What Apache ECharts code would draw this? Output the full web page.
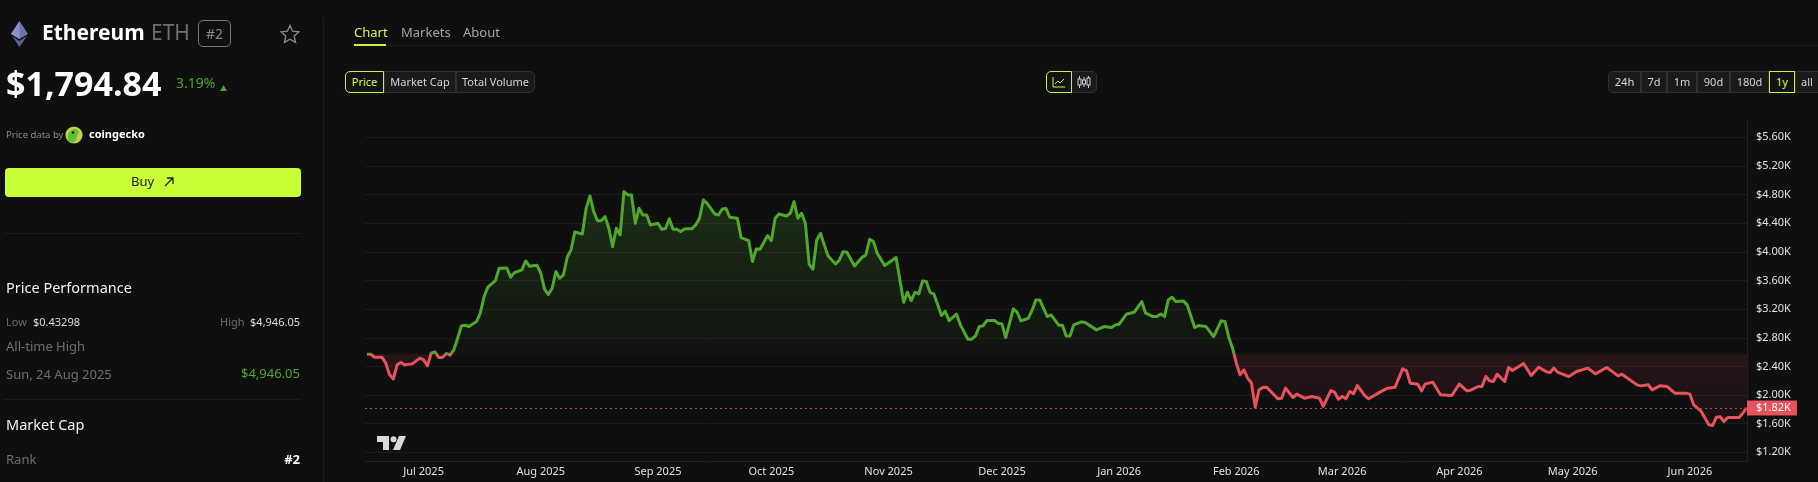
<!DOCTYPE html>
<html>
<head>
<meta charset="utf-8">
<title>Ethereum ETH</title>
<script src="https://cdn.jsdelivr.net/npm/echarts@6/dist/echarts.min.js"></script>
<style>
  html, body { margin: 0; padding: 0; background: #0f0f10; overflow: hidden; }
  body { width: 1818px; height: 482px; position: relative; font-family: "Noto Sans", sans-serif; color: #eee; }
  #chart { position: absolute; left: 0; top: 0; width: 1818px; height: 482px; }
  .t { position: absolute; white-space: nowrap; line-height: 1; }
  .r { text-align: right; }
  .grey { color: #6e6e6e; }
  .rule { position: absolute; background: #1d1d1d; }
  .btn { position: absolute; top: 71px; height: 22px; box-sizing: border-box; border: 1px solid #303030; background: #1a1a1b;
         color: #d4d4d4; font-size: 11px; line-height: 20px; text-align: center; }
  .btn.on { border-color: #c6f24a; color: #d4f56a; background: #131411; z-index: 2; }
  svg { position: absolute; }
</style>
</head>
<body>
<div id="chart"></div>

<!-- left panel -->
<svg style="left:10px;top:20px" width="19" height="28" viewBox="0 0 19 28">
  <polygon points="9.5,1 18,14 9.5,19 1,14" fill="#6f76ad"/>
  <polygon points="9.5,1 9.5,19 1,14" fill="#8a91c4"/>
  <polygon points="9.5,21 17,16 9.5,27 2,16" fill="#5a6198"/>
</svg>
<div class="t" style="left:42px;top:22px;font-size:21px;font-weight:700;color:#fff">Ethereum</div>
<div class="t grey" style="left:151px;top:22px;font-size:21px">ETH</div>
<div class="t" style="left:198px;top:20px;width:33px;height:27px;box-sizing:border-box;border:1px solid #777;border-radius:5px;font-size:14px;line-height:25px;text-align:center;color:#888">#2</div>
<svg style="left:280px;top:24px" width="20" height="20" viewBox="0 0 20 20">
  <polygon points="10,1.5 12.6,7.2 18.8,7.9 14.2,12.1 15.5,18.3 10,15.2 4.5,18.3 5.8,12.1 1.2,7.9 7.4,7.2" fill="none" stroke="#8a8a8a" stroke-width="1.4"/>
</svg>
<div class="t" style="left:6px;top:66px;font-size:34px;font-weight:700;color:#fff">$1,794.84</div>
<div class="t" style="left:176px;top:76px;font-size:14px;color:#4fa32c">3.19%</div>
<svg style="left:220px;top:85px" width="7" height="6" viewBox="0 0 7 6"><polygon points="3.5,0 7,6 0,6" fill="#4fa32c"/></svg>
<div class="t" style="left:6px;top:130px;font-size:9.5px;color:#8a8a8a">Price data by</div>
<svg style="left:65px;top:126px" width="18" height="18" viewBox="0 0 18 18">
  <circle cx="9" cy="9" r="8.6" fill="#c3cf45"/>
  <path d="M3 14 C2 7 6 3 10 3 C13 3 15 6 13 8 C11 10 12 14 9 16 C7 17 4 16 3 14 Z" fill="#5fbd3b"/>
  <circle cx="8" cy="6.5" r="1.3" fill="#102010"/>
</svg>
<div class="t" style="left:89px;top:128px;font-size:11px;font-weight:700;color:#fff">coingecko</div>
<div class="t" style="left:5px;top:168px;width:296px;height:29px;background:#c8ff36;border-radius:4px"></div>
<div class="t" style="left:131px;top:175px;font-size:13px;color:#222">Buy</div>
<svg style="left:163px;top:176px" width="12" height="12" viewBox="0 0 12 12"><path d="M2 10 L10 2 M4 2 H10 V8" fill="none" stroke="#222" stroke-width="1.3"/></svg>
<div class="rule" style="left:5px;top:233px;width:296px;height:1px"></div>
<div class="rule" style="left:323px;top:18px;width:1px;height:464px"></div>

<div class="t" style="left:6px;top:280px;font-size:14.5px;color:#f0f0f0">Price Performance</div>
<div class="t grey" style="left:6px;top:316px;font-size:11px">Low</div>
<div class="t" style="left:33px;top:316px;font-size:11px;color:#ddd">$0.43298</div>
<div class="t grey" style="left:220px;top:316px;font-size:11px">High</div>
<div class="t r" style="right:1518px;top:316px;font-size:11px;color:#ddd">$4,946.05</div>
<div class="t grey" style="left:6px;top:340px;font-size:13px">All-time High</div>
<div class="t grey" style="left:6px;top:368px;font-size:13px">Sun, 24 Aug 2025</div>
<div class="t r" style="right:1518px;top:367px;font-size:13px;color:#4fa32c">$4,946.05</div>
<div class="rule" style="left:5px;top:399px;width:296px;height:1px"></div>
<div class="t" style="left:6px;top:417px;font-size:14.5px;color:#f0f0f0">Market Cap</div>
<div class="t grey" style="left:6px;top:453px;font-size:13px">Rank</div>
<div class="t r" style="right:1518px;top:453px;font-size:13px;font-weight:700;color:#f5f5f5">#2</div>

<!-- tabs and buttons -->
<div class="t" style="left:354px;top:26px;font-size:13px;color:#d4f56a">Chart</div>
<div class="t" style="left:401px;top:26px;font-size:13px;color:#a5a5a5">Markets</div>
<div class="t" style="left:463px;top:26px;font-size:13px;color:#a5a5a5">About</div>
<div class="rule" style="left:354px;top:45px;width:1464px;height:1px"></div>
<div class="t" style="left:354px;top:44px;width:32px;height:2px;background:#c6f24a"></div>

<div class="btn on" style="left:345px;width:39px;border-radius:5px 0 0 5px">Price</div>
<div class="btn" style="left:384px;width:72px">Market Cap</div>
<div class="btn" style="left:456px;width:79px;border-radius:0 5px 5px 0">Total Volume</div>

<div class="btn on" style="left:1046px;width:26px;border-radius:5px 0 0 5px"></div>
<div class="btn" style="left:1071px;width:26px;border-radius:0 5px 5px 0"></div>
<svg style="left:1052px;top:76px;z-index:3" width="14" height="12" viewBox="0 0 14 12"><path d="M1 1 V11 H13 M3 8 L6 5 L8 7 L12 3" fill="none" stroke="#d4f56a" stroke-width="1"/></svg>
<svg style="left:1077px;top:76px;z-index:3" width="14" height="12" viewBox="0 0 14 12"><path d="M2.5 0 V12 M7 1 V11 M11.5 0 V12" stroke="#cfcfcf" stroke-width="1"/><rect x="1" y="3" width="3" height="6" fill="#1a1a1b" stroke="#cfcfcf"/><rect x="5.5" y="4" width="3" height="4" fill="#1a1a1b" stroke="#cfcfcf"/><rect x="10" y="2" width="3" height="7" fill="#1a1a1b" stroke="#cfcfcf"/></svg>

<div class="btn" style="left:1608px;width:33px;border-radius:5px 0 0 5px">24h</div>
<div class="btn" style="left:1641px;width:26px">7d</div>
<div class="btn" style="left:1667px;width:30px">1m</div>
<div class="btn" style="left:1697px;width:33px">90d</div>
<div class="btn" style="left:1730px;width:39px">180d</div>
<div class="btn on" style="left:1769px;width:26px">1y</div>
<div class="btn" style="left:1795px;width:24px">all</div>

<svg style="left:377px;top:436px;z-index:3" width="29" height="14" viewBox="0 0 29 14">
  <path d="M0 0 H12 V14 H6 V6 H0 Z" fill="#d8d8d8"/>
  <circle cx="16.5" cy="3.2" r="3" fill="#d8d8d8"/>
  <path d="M22 0 H29 L23 14 H16 Z" fill="#d8d8d8"/>
</svg>

<script>
// days counted from 16 Jun 2025, price in USD
const priceDays = [
  0,1,2,4,5,6,7,8,9,10,12,14,15,16,17,18,19,20,21,22,23,24,25,26,27,29,30,31,32,34,35,37,38,39,41,42,43,45,46,47,48,49,50,51,52,53,54,55,57,58,59,60,61,62,63,64,65,66,67,68,69,70,71,72,73,74,
  75,77,78,79,80,81,82,83,84,86,87,88,89,90,92,93,94,95,96,98,99,101,102,103,104,106,107,108,109,111,112,113,114,115,116,117,118,119,120,121,122,124,125,126,127,129,131,132,133,134,135,137,140,142,143,144,145,146,147,148,149,150,152,153,
  154,156,157,159,160,161,162,163,164,166,167,168,169,171,172,173,175,176,177,178,180,181,183,184,185,186,187,189,190,193,195,197,198,199,201,203,205,206,208,209,210,211,212,213,214,216,217,219,220,222,224,226,227,228,229,230,231,232,233,
  234,235,236,237,238,241,242,243,245,246,248,250,252,253,255,256,257,258,259,260,261,262,264,265,268,270,272,274,275,276,278,279,280,282,284,287,289,291,292,294,295,296,297,298,299,301,302,303,304,306,308,310,312,313,
  314,315,318,320,323,325,328,331,332,336,337,339,340,342,344,346,349,350,351,353,355,356,357,358,359,360,363,364,365
];
const priceValues = [
  2570,2570,2528,2528,2445,2282,2226,2421,2454,2421,2435,2515,2491,2408,2584,2603,2524,2524,2580,2556,2631,2794,2966,2975,2957,3026,3143,3375,3506,3599,3771,3776,3645,3710,3748,3873,3799,3813,3701,3478,3403,3492,3724,3631,3678,3924,4027,4278,4250,4608,4781,4562,4436,4436,4492,4329,4073,4329,4236,4841,4795,4795,4399,4608,4515,4515,
  4376,4399,4315,4325,4460,4315,4315,4283,4320,4325,4376,4469,4725,4678,4529,4515,4599,4604,4483,4469,4199,4157,3864,4041,4036,4227,4157,4469,4529,4501,4539,4701,4469,4539,4399,3827,3757,4166,4259,4097,3943,3831,3887,4003,3994,3803,3924,3957,4176,4143,3980,3808,3920,3296,3436,3320,3436,3412,3594,3585,3431,3412,3110,3171,
  3040,3129,2980,2780,2780,2826,2956,2966,3040,3040,3003,2994,2803,3203,3157,3036,3073,3189,3329,3329,3096,3119,2975,2975,2826,2826,2980,3022,3012,2910,2956,2943,2980,2989,3133,3157,3305,3143,3096,3096,3133,3096,3329,3366,3305,3315,3259,2943,2970,2956,2817,3036,3026,2808,2654,2445,2282,2351,2235,
  2170,1830,2072,2105,2110,1947,1956,2096,1965,2012,1956,1979,1956,1840,2063,2040,1942,1979,1947,2049,2017,2133,1993,1947,2040,2096,2110,2366,2342,2166,2152,2058,2156,2179,2003,1993,2152,2058,2068,2119,2119,2259,2198,2189,2291,2189,2384,2342,2375,2440,2273,2389,2324,2314,
  2375,2319,2258,2328,2375,2296,2384,2268,2291,2142,2128,2142,2072,2128,2119,2026,2026,2012,1863,1770,1584,1574,1691,1696,1630,1686,1686,1747,1820
];
const basePrice = 2570;
const lastPrice = 1820;
const lastPriceLabel = '$1.82K';

const monthDays = [15, 46, 77, 107, 138, 168, 199, 230, 258, 289, 319, 350];
const monthLabels = ['Jul 2025', 'Aug 2025', 'Sep 2025', 'Oct 2025', 'Nov 2025', 'Dec 2025', 'Jan 2026', 'Feb 2026', 'Mar 2026', 'Apr 2026', 'May 2026', 'Jun 2026'];

const gridTop = 137.3;
const gridHeight = 315;
const axisMin = 1200;
const axisMax = 5600;
const green = '#4fa82b';
const red = '#e8525c';

function yOf(v) {
  return gridTop + (axisMax - v) / (axisMax - axisMin) * gridHeight;
}

// both gradients are in canvas pixels so that they switch colour exactly at the base price
const gradTop = 190, gradBottom = 445;
const baseStop = (yOf(basePrice) - gradTop) / (gradBottom - gradTop);

const lineColor = new echarts.graphic.LinearGradient(0, gradTop, 0, gradBottom, [
  { offset: 0, color: green },
  { offset: baseStop, color: green },
  { offset: baseStop, color: red },
  { offset: 1, color: red }
], true);

const areaColor = new echarts.graphic.LinearGradient(0, gradTop, 0, gradBottom, [
  { offset: 0, color: 'rgba(79,168,43,0.21)' },
  { offset: baseStop, color: 'rgba(79,168,43,0.03)' },
  { offset: baseStop, color: 'rgba(232,82,92,0.11)' },
  { offset: 1, color: 'rgba(232,82,92,0.02)' }
], true);

const myChart = echarts.init(document.getElementById('chart'), null, { renderer: 'canvas' });

const option = {
  animation: false,
  backgroundColor: 'transparent',
  textStyle: { fontFamily: '"Noto Sans", sans-serif' },
  grid: { left: 365, top: gridTop, width: 1382, height: gridHeight },
  xAxis: {
    type: 'value',
    min: -0.5,
    max: 365.1,
    splitLine: { show: false },
    axisLine: { show: false },
    axisTick: { show: false },
    axisLabel: {
      customValues: monthDays,
      formatter: function (value) {
        return monthLabels[monthDays.indexOf(value)];
      },
      color: '#e0e0e0',
      fontSize: 11,
      margin: 14
    }
  },
  yAxis: {
    type: 'value',
    position: 'right',
    min: axisMin,
    max: axisMax,
    interval: 400,
    axisLine: { show: false },
    axisTick: { show: false },
    splitLine: { lineStyle: { color: '#1c1c1c', width: 1 } },
    axisLabel: {
      formatter: function (value) {
        return '$' + (value / 1000).toFixed(2) + 'K';
      },
      color: '#e0e0e0',
      fontSize: 11,
      margin: 9
    }
  },
  series: [
    {
      type: 'line',
      data: priceDays.map(function (d, i) { return [d, priceValues[i]]; }),
      showSymbol: false,
      symbol: 'none',
      lineStyle: { color: lineColor, width: 3, join: 'round' },
      areaStyle: { color: areaColor, origin: basePrice, opacity: 1 },
      markLine: {
        silent: true,
        symbol: 'none',
        animation: false,
        lineStyle: { color: '#b04a50', width: 1, type: [2, 3] },
        label: {
          position: 'end',
          distance: 0,
          formatter: lastPriceLabel,
          backgroundColor: red,
          color: '#fff',
          fontSize: 11,
          padding: [2, 6, 2, 9]
        },
        data: [{ yAxis: lastPrice }]
      },
      z: 3
    }
  ],
  // price scale frame
  graphic: [
    { type: 'line', shape: { x1: 1747.5, y1: 120, x2: 1747.5, y2: 462 }, style: { stroke: '#222', lineWidth: 1 }, silent: true },
    { type: 'line', shape: { x1: 365, y1: 461.5, x2: 1747, y2: 461.5 }, style: { stroke: '#222', lineWidth: 1 }, silent: true }
  ]
};
myChart.setOption(option);
</script>
</body>
</html>
